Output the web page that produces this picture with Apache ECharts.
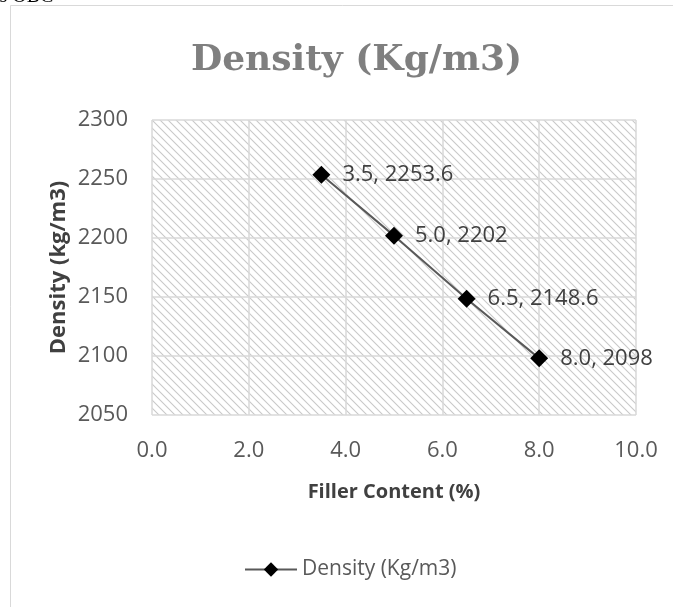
<!DOCTYPE html>
<html>
<head>
<meta charset="utf-8">
<script src="https://cdn.jsdelivr.net/npm/echarts@6/dist/echarts.min.js"></script>
<style>
html,body{margin:0;padding:0;background:#fff;}
#c{width:673px;height:607px;}
</style>
</head>
<body>
<div id="c"></div>
<script>
const fillerContent = [3.5, 5.0, 6.5, 8.0];
const densityValues = [2253.6, 2202, 2148.6, 2098];
const seriesName = 'Density (Kg/m3)';
const xTicks = [0, 2, 4, 6, 8, 10];
const yTicks = [2050, 2100, 2150, 2200, 2250, 2300];

function hatch() {
  const s = 8;
  const c = document.createElement('canvas');
  c.width = s; c.height = s;
  const g = c.getContext('2d');
  g.fillStyle = '#ffffff';
  g.fillRect(0, 0, s, s);
  g.strokeStyle = '#c9c9c9';
  g.lineWidth = 1.1;
  g.beginPath();
  g.moveTo(-2, -2); g.lineTo(s + 2, s + 2);
  g.moveTo(-2 - s / 2, -2 + s / 2); g.lineTo(s / 2 + 2, s + s / 2 + 2);
  g.moveTo(-2 + s / 2, -2 - s / 2); g.lineTo(s + s / 2 + 2, s / 2 + 2);
  g.stroke();
  return c;
}

const chart = echarts.init(document.getElementById('c'));
chart.setOption({
  animation: false,
  backgroundColor: '#ffffff',
  title: {
    text: 'Density (Kg/m3)',
    left: 186,
    top: 38,
    textStyle: { fontFamily: 'DejaVu Serif', fontWeight: 'bold', fontSize: 36, color: '#7f7f7f' }
  },
  graphic: [
    { type: 'rect', shape: { x: 10.5, y: 5.5, width: 700, height: 700 }, style: { fill: 'none', stroke: '#d9d9d9', lineWidth: 1 }, silent: true },
    { type: 'text', left: -6, top: -13, style: { text: 'is OBC', font: '20px "Liberation Serif"', fill: '#000' }, silent: true }
  ],
  legend: {
    bottom: 22,
    left: 239,
    itemWidth: 52,
    itemHeight: 18,
    itemGap: 6,
    textStyle: { fontFamily: 'Open Sans', fontSize: 21, color: '#595959' },
    data: [seriesName]
  },
  grid: {
    left: 152, right: 37, top: 120, bottom: 192,
    show: true,
    borderWidth: 0,
    backgroundColor: { image: hatch(), repeat: 'repeat' }
  },
  xAxis: {
    type: 'value',
    min: xTicks[0], max: xTicks[xTicks.length - 1], interval: 2,
    name: 'Filler Content (%)',
    nameLocation: 'middle',
    nameGap: 67,
    nameTextStyle: { fontFamily: 'Open Sans', fontWeight: 'bold', fontSize: 20, color: '#404040' },
    axisLine: { show: false },
    axisTick: { show: false },
    axisLabel: { margin: 25, fontFamily: 'Open Sans', fontSize: 22, color: '#595959', formatter: v => v.toFixed(1) },
    splitLine: { show: true, lineStyle: { color: '#d9d9d9', width: 1.5 } }
  },
  yAxis: {
    type: 'value',
    min: yTicks[0], max: yTicks[yTicks.length - 1], interval: 50,
    name: 'Density (kg/m3)',
    nameLocation: 'middle',
    nameGap: 82,
    nameMoveOverlap: false,
    nameRotate: 90,
    nameTextStyle: { fontFamily: 'Open Sans', fontWeight: 'bold', fontSize: 22, color: '#404040' },
    axisLine: { show: false },
    axisTick: { show: false },
    axisLabel: { margin: 24, fontFamily: 'Open Sans', fontSize: 22, color: '#595959', formatter: v => String(v) },
    splitLine: { show: true, lineStyle: { color: '#d9d9d9', width: 1.5 } }
  },
  series: [{
    name: seriesName,
    type: 'line',
    data: fillerContent.map((x, i) => [x, densityValues[i]]),
    symbol: 'diamond',
    symbolSize: 18,
    itemStyle: { color: '#000000' },
    lineStyle: { color: '#595959', width: 2 },
    label: {
      show: true,
      position: 'right',
      distance: 12,
      fontFamily: 'Open Sans',
      fontSize: 22,
      color: '#404040',
      formatter: p => p.value[0].toFixed(1) + ', ' + p.value[1]
    }
  }]
});
</script>
</body>
</html>
